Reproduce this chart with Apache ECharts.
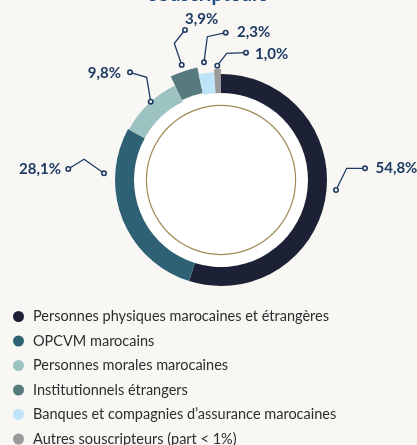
<!DOCTYPE html>
<html lang="fr" style="height: 100%">
<head>
  <meta charset="utf-8">
</head>
<body style="height: 100%; margin: 0; background: #f8f7f4">
  <div id="container" style="width: 417px; height: 445px"></div>
  <script type="text/javascript" src="https://cdn.jsdelivr.net/npm/echarts@6.0.0/dist/echarts.min.js"></script>
  <script type="text/javascript">

    // données
    var categories = [
      'Personnes physiques marocaines et étrangères',
      'OPCVM marocains',
      'Personnes morales marocaines',
      'Institutionnels étrangers',
      'Banques et compagnies d\u2019assurance marocaines',
      'Autres souscripteurs (part < 1%)'
    ];
    var values = [54.8, 28.1, 9.8, 3.9, 2.3, 1.0];
    var colors = ['#1c2136', '#2f6174', '#9cc2c2', '#577a7e', '#bee4fa', '#9a9a9a'];

    // rayons (px) de chaque part : certaines dépassent de l'anneau
    var radii = [[87, 106], [87, 106], [87, 105], [89, 115], [87, 108], [87, 111]];

    // tracé des étiquettes : départ, coude, arrivée, position du texte
    var labelLayouts = [
      { p: [[336, 190], [346.7, 168.3], [365, 168.3]], x: 375.5, y: 168.5, align: 'left' },
      { p: [[104, 173.3], [84, 159.3], [68.3, 169]], x: 61, y: 169.5, align: 'right' },
      { p: [[150.7, 101.7], [146.7, 77.3], [130, 72.3]], x: 121, y: 73, align: 'right' },
      { p: [[181.7, 65], [174.3, 43.3], [185, 30]], x: 185, y: 19.5, align: 'left' },
      { p: [[204, 62.3], [207.3, 36.7], [225.7, 32.7]], x: 237, y: 32.5, align: 'left' },
      { p: [[217.3, 65.7], [226.7, 53.3], [246, 52.7]], x: 255, y: 54.5, align: 'left' }
    ];

    var navy = '#1e3a63';
    var center = [221, 180];

    var dom = document.getElementById('container');
    var myChart = echarts.init(dom, null, { renderer: 'canvas' });

    function fmt(v) {
      return v.toFixed(1).replace('.', ',') + '%';
    }

    var series = [];

    // disque blanc et cercle doré au centre
    series.push({
      type: 'pie', silent: true, center: center, radius: [0, 87],
      label: { show: false }, labelLine: { show: false },
      itemStyle: { color: '#ffffff' }, data: [1], z: 1
    });
    series.push({
      type: 'pie', silent: true, center: center, radius: [74, 75.2],
      label: { show: false }, labelLine: { show: false },
      itemStyle: { color: '#a08a55' }, data: [1], z: 1
    });

    // une série par part pour avoir un rayon propre
    values.forEach(function (v, i) {
      series.push({
        type: 'pie',
        silent: true,
        center: center,
        radius: radii[i],
        startAngle: 90,
        avoidLabelOverlap: false,
        z: 2,
        label: {
          show: true,
          formatter: function (p) { return fmt(p.value); },
          fontFamily: 'Lato',
          fontWeight: 'bold',
          fontSize: 15,
          color: navy
        },
        labelLine: { show: true, lineStyle: { color: navy, width: 1.3 } },
        labelLayout: function (params) {
          if (params.dataIndex !== i) return {};
          var L = labelLayouts[i];
          return { x: L.x, y: L.y, align: L.align, verticalAlign: 'middle', labelLinePoints: L.p };
        },
        data: values.map(function (val, j) {
          var item = { name: categories[j], value: val };
          if (j !== i) {
            item.itemStyle = { color: 'rgba(0,0,0,0)' };
            item.label = { show: false };
            item.labelLine = { show: false };
          } else {
            item.itemStyle = { color: colors[j] };
          }
          return item;
        })
      });
    });

    // petits ronds aux extrémités des traits
    var dots = [];
    labelLayouts.forEach(function (L) {
      [L.p[0], L.p[2]].forEach(function (pt) {
        dots.push({
          type: 'circle', z: 100,
          shape: { cx: pt[0], cy: pt[1], r: 2.2 },
          style: { fill: '#f8f7f4', stroke: navy, lineWidth: 1.6 }
        });
      });
    });

    var option = {
      backgroundColor: '#f8f7f4',
      title: {
        text: 'souscripteurs',
        left: 'center',
        top: -15,
        padding: 0,
        textStyle: { fontFamily: 'Lato', fontWeight: 'bold', fontSize: 20, lineHeight: 20, color: '#1e4a80' }
      },
      legend: {
        orient: 'vertical',
        left: 13,
        top: 309,
        height: 200,
        padding: 0,
        icon: 'circle',
        itemWidth: 11,
        itemHeight: 11,
        itemGap: 9.5,
        selectedMode: false,
        textStyle: { fontFamily: 'Lato', fontSize: 14.5, lineHeight: 14, color: '#2d2d2d', padding: [0, 0, 0, 4] },
        data: categories.map(function (c, i) {
          return { name: c, itemStyle: { color: colors[i] } };
        })
      },
      graphic: dots,
      series: series
    };

    myChart.setOption(option);

  </script>
</body>
</html>
